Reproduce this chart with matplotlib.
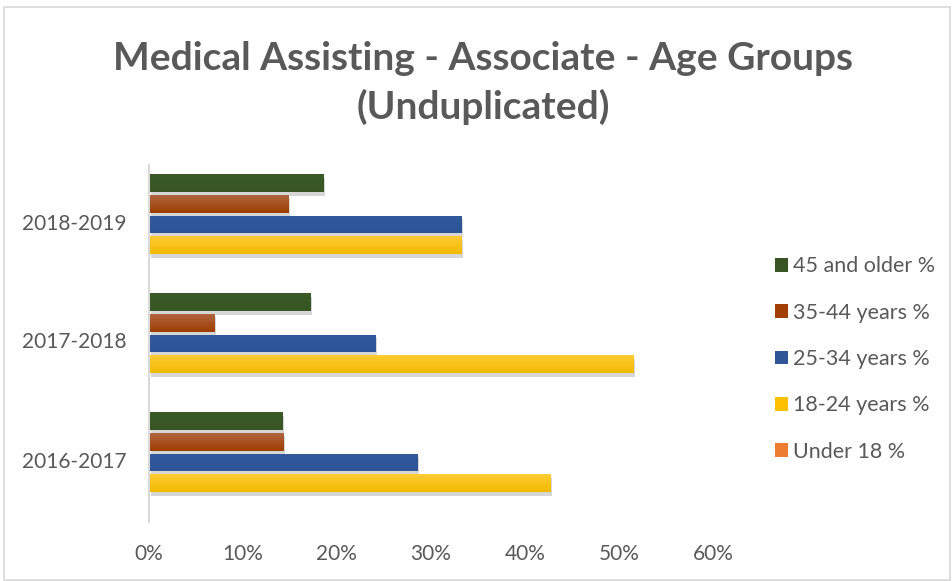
import matplotlib
matplotlib.use("Agg")
import matplotlib.pyplot as plt
import matplotlib.patheffects as pe
import matplotlib.transforms as mtransforms
from matplotlib.colors import LinearSegmentedColormap
from matplotlib.patches import Rectangle, Patch
import numpy as np

# data
years = ["2016-2017", "2017-2018", "2018-2019"]
series = ["Under 18 %", "18-24 years %", "25-34 years %", "35-44 years %", "45 and older %"]
under_18 = [0.0, 0.0, 0.0]
age_18_24 = [0.427, 0.515, 0.332]
age_25_34 = [0.285, 0.241, 0.332]
age_35_44 = [0.143, 0.070, 0.148]
age_45_up = [0.142, 0.172, 0.185]
values = [under_18, age_18_24, age_25_34, age_35_44, age_45_up]

# colours (solid, gradient top, gradient bottom)
solid = ["#ED7D31", "#FFC000", "#2F5597", "#A23F05", "#375623"]
grad_top = ["#F4955A", "#FFCC33", "#32599B", "#B0653F", "#3A5A27"]
grad_bot = ["#EC7A2C", "#F2BA00", "#2E5496", "#9E3D00", "#375623"]

text_col = "#595959"
plt.rcParams['font.family'] = ['Lato', 'DejaVu Sans']

fig = plt.figure(figsize=(9.52, 5.81), dpi=100)
fig.patches.append(Rectangle((4 / 952, 1 / 581), 946 / 952, 573 / 581, transform=fig.transFigure,
                             fill=False, edgecolor="#D9D9D9", linewidth=1.2))

ax = fig.add_axes([148.5 / 952, 1 - 522 / 581, (713 - 148.5) / 952, (522 - 165) / 581])

pitch = 0.173
height = 0.151
y = np.arange(len(years))
shadow = [pe.SimplePatchShadow(offset=(1.5, -2.5), shadow_rgbFace="#8C8C8C", alpha=0.35), pe.Normal()]

for i, vals in enumerate(values):
    ypos = y + (i - 2) * pitch
    bars = ax.barh(ypos, vals, height=height, color=solid[i], linewidth=0, zorder=2)
    cmap = LinearSegmentedColormap.from_list("g%d" % i, [grad_bot[i], grad_top[i]])
    for b in bars:
        if b.get_width() <= 0:
            continue
        b.set_path_effects(shadow)
        x0, y0 = b.get_x(), b.get_y()
        im = ax.imshow(np.linspace(0, 1, 50).reshape(-1, 1), cmap=cmap, aspect="auto", origin="lower",
                       extent=(x0, x0 + b.get_width(), y0, y0 + b.get_height()), zorder=3)
        im.set_clip_path(b)

ax.set_xlim(0, 0.6)
ax.set_ylim(-0.5, 2.5)
ax.set_xticks(np.arange(0, 0.61, 0.1))
ax.set_xticklabels(["{:.0f}%".format(t * 100) for t in np.arange(0, 0.61, 0.1)])
ax.set_yticks(y)
ax.set_yticklabels(years)
ax.tick_params(axis="x", length=0, pad=15.5, labelsize=15, labelcolor=text_col)
ax.tick_params(axis="y", length=0, pad=16, labelsize=15, labelcolor=text_col)
# nudge year labels up a little, like the reference
shift = mtransforms.ScaledTranslation(0, 3 / 100, fig.dpi_scale_trans)
for lab in ax.get_yticklabels():
    lab.set_transform(lab.get_transform() + shift)
for s in ["top", "right", "bottom"]:
    ax.spines[s].set_visible(False)
ax.spines["left"].set_color("#D9D9D9")
ax.spines["left"].set_linewidth(1.5)
ax.spines["left"].set_zorder(4)

fig.text(483 / 952, 1 - 58 / 581, "Medical Assisting - Associate - Age Groups", ha="center", va="center",
         fontsize=28, fontweight="bold", color=text_col)
fig.text(483 / 952, 1 - 107 / 581, "(Unduplicated)", ha="center", va="center",
         fontsize=28, fontweight="bold", color=text_col)

handles = [Patch(facecolor=solid[i], edgecolor="none") for i in range(len(series) - 1, -1, -1)]
labels = [series[i] for i in range(len(series) - 1, -1, -1)]
fig.legend(handles, labels, loc="center left", bbox_to_anchor=(756 / 952, 1 - 359 / 581), frameon=False,
           fontsize=15.5, labelcolor=text_col, handlelength=0.6, handleheight=0.6, handletextpad=0.2,
           labelspacing=1.22)

fig.savefig("out.png", dpi=100)
